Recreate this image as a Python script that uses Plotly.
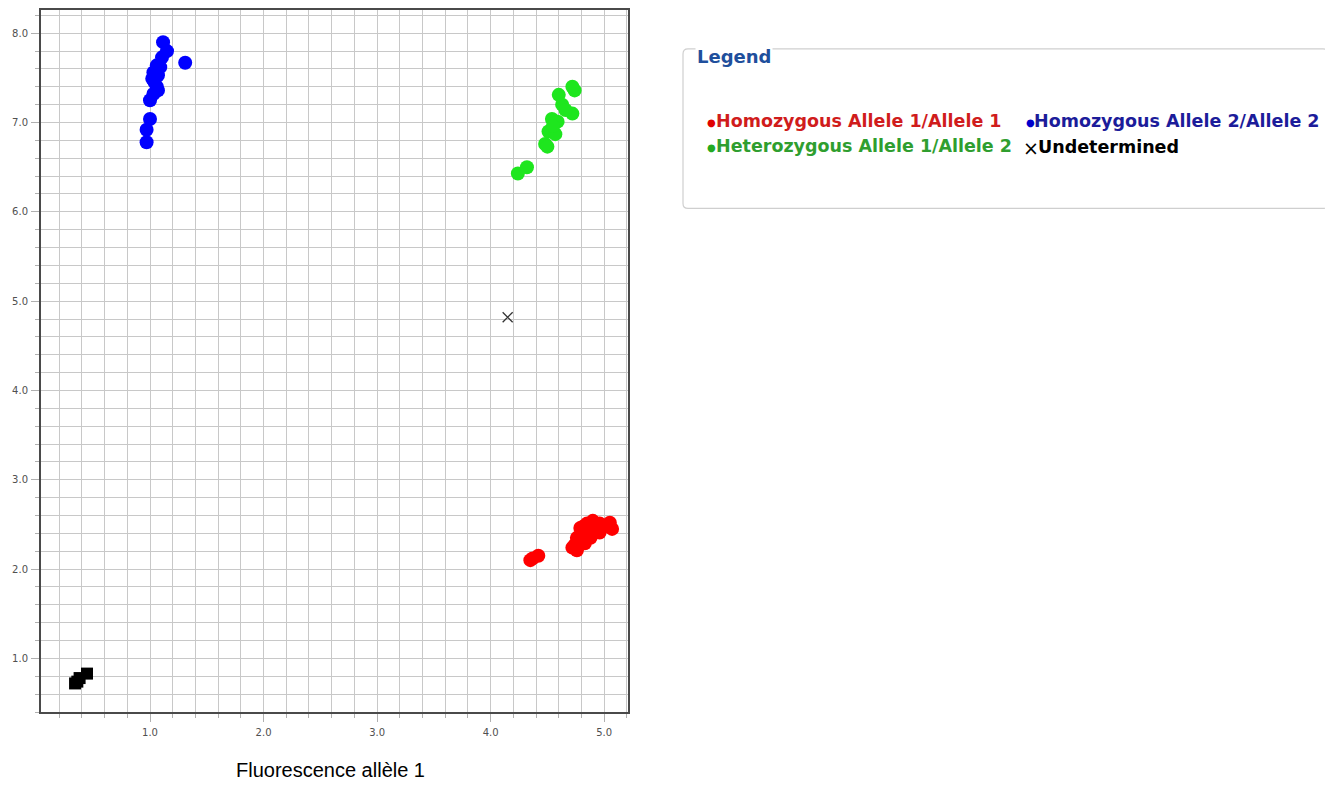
import plotly.graph_objects as go

# ---- data ----
hom1_x = [4.35, 4.42, 4.37, 4.72, 4.76, 4.79, 4.85, 4.90, 4.96, 5.05, 5.07, 4.88, 4.83, 4.76, 4.96, 4.92, 4.74,
          4.80, 4.86, 4.82, 4.99, 4.78]
hom1_y = [2.10, 2.15, 2.12, 2.24, 2.35, 2.46, 2.51, 2.54, 2.51, 2.52, 2.45, 2.35, 2.29, 2.21, 2.41, 2.43, 2.27,
          2.38, 2.42, 2.48, 2.47, 2.31]

hom2_x = [1.115, 1.15, 1.31, 1.106, 1.06, 1.03, 1.02, 1.07, 1.06, 1.03, 1.00, 1.07, 1.00, 0.97, 0.97, 1.04, 1.09]
hom2_y = [7.90, 7.80, 7.67, 7.73, 7.64, 7.56, 7.49, 7.53, 7.40, 7.32, 7.25, 7.36, 7.04, 6.92, 6.78, 7.45, 7.62]

het_x = [4.74, 4.72, 4.60, 4.72, 4.63, 4.54, 4.59, 4.51, 4.57, 4.48, 4.50, 4.32, 4.24, 4.66, 4.55]
het_y = [7.36, 7.40, 7.31, 7.10, 7.20, 7.04, 7.01, 6.90, 6.87, 6.76, 6.73, 6.50, 6.43, 7.14, 6.96]

undet_x = [4.15]
undet_y = [4.82]

ntc_x = [0.34, 0.445, 0.38, 0.36]
ntc_y = [0.72, 0.83, 0.78, 0.74]

series_names = ["Homozygous Allele 1/Allele 1", "Homozygous Allele 2/Allele 2",
                "Heterozygous Allele 1/Allele 2", "Undetermined"]
x_title = "Fluorescence allèle 1"

# ---- figure ----
fig = go.Figure()
fig.add_trace(go.Scatter(x=hom1_x, y=hom1_y, mode="markers", name=series_names[0],
                         marker=dict(color="#ff0000", size=14, line=dict(width=0))))
fig.add_trace(go.Scatter(x=hom2_x, y=hom2_y, mode="markers", name=series_names[1],
                         marker=dict(color="#0000ff", size=14, line=dict(width=0))))
fig.add_trace(go.Scatter(x=het_x, y=het_y, mode="markers", name=series_names[2],
                         marker=dict(color="#1ee61e", size=14, line=dict(width=0))))
fig.add_trace(go.Scatter(x=undet_x, y=undet_y, mode="markers", name=series_names[3],
                         marker=dict(symbol="x-thin", color="#333333", size=10,
                                     line=dict(width=1.3, color="#333333"))))
fig.add_trace(go.Scatter(x=ntc_x, y=ntc_y, mode="markers", name="NTC",
                         marker=dict(symbol="square", color="#000000", size=12, line=dict(width=0))))

# page body adds an 8px offset, so the figure is drawn 8px smaller
OFF = 8
W, H = 1333 - OFF, 789 - OFF
L, T = 41 - OFF, 8 - OFF
R = W - (628 - OFF)
B = H - (712 - OFF)
pw, ph = W - L - R, H - T - B

def px(x):
    return (x - OFF - L) / pw

def py(y):
    return (H - B - (y - OFF)) / ph

fig.update_layout(width=W, height=H, margin=dict(l=L, r=R, t=T, b=B),
                  plot_bgcolor="white", paper_bgcolor="white", showlegend=False,
                  font=dict(family="DejaVu Sans"))

axis_common = dict(showgrid=True, gridcolor="#c8c8c8", gridwidth=1, zeroline=False,
                   showline=True, linecolor="#4a4a4a", linewidth=2, mirror=True,
                   ticks="outside", ticklen=8, tickcolor="#b0b0b0", tickformat=".1f",
                   tickfont=dict(size=10, color="#505050", family="DejaVu Sans"),
                   tick0=0, dtick=1,
                   minor=dict(dtick=0.2, tick0=0, showgrid=True, gridcolor="#c8c8c8",
                              gridwidth=1, ticks="outside", ticklen=4, tickcolor="#b0b0b0"))
fig.update_xaxes(range=[0.04, 5.21], ticklabelstandoff=2, **axis_common)
fig.update_yaxes(range=[0.40, 8.26], ticklabelstandoff=1, **axis_common)

# x axis title
fig.add_annotation(text=x_title, xref="paper", yref="paper", x=px(330), y=py(770),
                   xanchor="center", yanchor="middle", showarrow=False,
                   font=dict(family="Liberation Sans", size=20, color="#000000"))

# legend box (fieldset style)
x0, x1, y0, y1, r = 683, 1328, 47, 207, 5
path = (f"M {px(x0 + r)},{py(y0)} L {px(x1 - r)},{py(y0)} Q {px(x1)},{py(y0)} {px(x1)},{py(y0 + r)} "
        f"L {px(x1)},{py(y1 - r)} Q {px(x1)},{py(y1)} {px(x1 - r)},{py(y1)} "
        f"L {px(x0 + r)},{py(y1)} Q {px(x0)},{py(y1)} {px(x0)},{py(y1 - r)} "
        f"L {px(x0)},{py(y0 + r)} Q {px(x0)},{py(y0)} {px(x0 + r)},{py(y0)} Z")
fig.add_shape(type="path", path=path, xref="paper", yref="paper",
              line=dict(color="#cfcfcf", width=1.2), fillcolor="white", layer="below")

fig.add_annotation(text="<b>Legend</b>", xref="paper", yref="paper", x=px(695), y=py(55),
                   xanchor="left", yanchor="middle", showarrow=False, bgcolor="white",
                   font=dict(family="DejaVu Sans", size=18, color="#1f4f9c"))

entries = [
    (series_names[0], "#d01c1c", "#e00000", 712, 119, "●"),
    (series_names[1], "#1c1c9a", "#0000cc", 1030, 119, "●"),
    (series_names[2], "#2f9e2f", "#22aa22", 712, 144, "●"),
    (series_names[3], "#000000", "#000000", 1031, 145, "×"),
]
for name, tcol, mcol, ex, ey, sym in entries:
    if sym == "●":
        fig.add_annotation(text=sym, xref="paper", yref="paper", x=px(ex), y=py(ey + 2),
                           xanchor="center", yanchor="middle", showarrow=False,
                           font=dict(family="DejaVu Sans", size=10, color=mcol))
        tx = ex + 2
    else:
        fig.add_annotation(text=sym, xref="paper", yref="paper", x=px(ex), y=py(ey + 1),
                           xanchor="center", yanchor="middle", showarrow=False,
                           font=dict(family="DejaVu Sans", size=19, color=mcol))
        tx = ex + 5
    fig.add_annotation(text=f"<b>{name}</b>", xref="paper", yref="paper", x=px(tx), y=py(ey),
                       xanchor="left", yanchor="middle", showarrow=False,
                       font=dict(family="DejaVu Sans", size=17.5, color=tcol))

fig.write_html("out.html")
